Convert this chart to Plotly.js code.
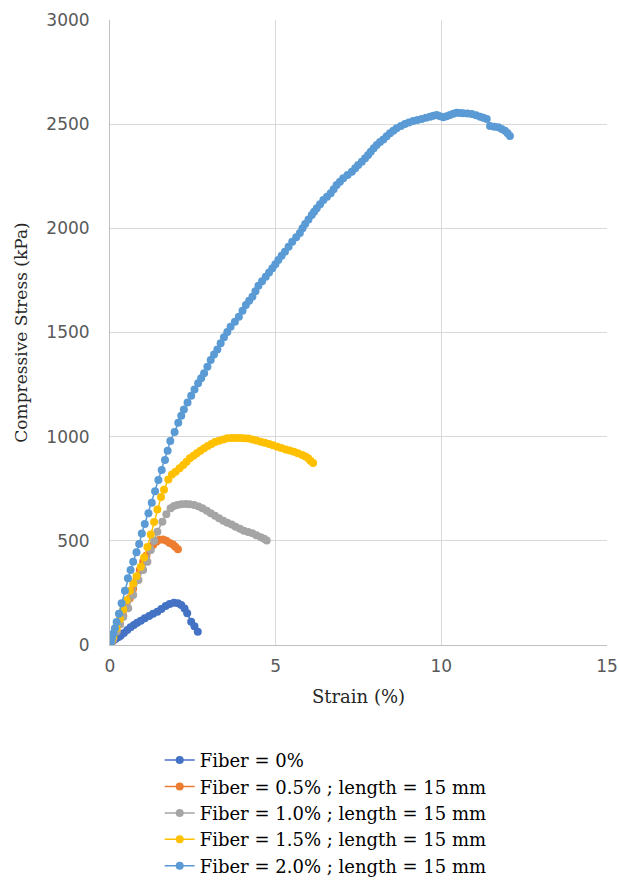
<!DOCTYPE html>
<html>
<head>
<meta charset="utf-8">
<script src="https://cdn.plot.ly/plotly-3.0.1.min.js"></script>
<style>html,body{margin:0;padding:0;background:#fff;}#chart{width:619px;height:886px;}</style>
</head>
<body>
<div id="chart"></div>
<script>
// Series names
var seriesNames = [
  "Fiber = 0%",
  "Fiber = 0.5% ; length = 15 mm",
  "Fiber = 1.0% ; length = 15 mm",
  "Fiber = 1.5% ; length = 15 mm",
  "Fiber = 2.0% ; length = 15 mm"
];
var seriesColors = ["#4472C4", "#ED7D31", "#A5A5A5", "#FFC000", "#5B9BD5"];

// Fiber = 0%
var strain0 = [0, 0.03, 0.06, 0.1, 0.15, 0.2, 0.26, 0.32, 0.42, 0.52, 0.62, 0.72, 0.82, 0.93, 1.05, 1.18, 1.3, 1.43, 1.55, 1.68, 1.8, 1.93, 2.05, 2.15, 2.25, 2.33, 2.45, 2.55, 2.65];
var stress0 = [0, 8, 15, 22, 28, 34, 38, 44, 58, 72, 85, 96, 107, 117, 128, 139, 150, 160, 173, 187, 197, 203, 200, 192, 175, 152, 112, 90, 64];

// Fiber = 0.5%
var strain05 = [0, 0.05, 0.1, 0.2, 0.3, 0.4, 0.5, 0.6, 0.7, 0.8, 0.9, 1.0, 1.1, 1.2, 1.3, 1.4, 1.5, 1.6, 1.7, 1.8, 1.9, 1.97, 2.05];
var stress05 = [0, 15, 30, 65, 100, 140, 180, 225, 270, 315, 360, 400, 430, 456, 480, 496, 505, 506, 500, 490, 482, 472, 460];

// Fiber = 1.0%
var strain10 = [0, 0.05, 0.1, 0.2, 0.3, 0.4, 0.55, 0.7, 0.86, 1.0, 1.13, 1.23, 1.33, 1.43, 1.58, 1.7, 1.83, 1.93, 2.03, 2.15, 2.28, 2.4, 2.54, 2.67, 2.79, 2.92, 3.04, 3.17, 3.29, 3.42, 3.54, 3.67, 3.79, 3.92, 4.04, 4.17, 4.3, 4.42, 4.55, 4.65, 4.73];
var stress10 = [0, 15, 30, 65, 100, 135, 176, 240, 312, 360, 400, 456, 500, 544, 592, 628, 656, 667, 672, 676, 677, 676, 672, 665, 656, 645, 632, 620, 608, 597, 587, 578, 568, 558, 549, 542, 536, 527, 517, 510, 502];

// Fiber = 1.5%
var strain15 = [0, 0.05, 0.1, 0.2, 0.3, 0.4, 0.5, 0.6, 0.7, 0.8, 0.93, 1.03, 1.13, 1.23, 1.33, 1.43, 1.54, 1.63, 1.76, 1.87, 1.98, 2.1, 2.21, 2.31, 2.41, 2.52, 2.62, 2.73, 2.84, 2.95, 3.06, 3.17, 3.29, 3.42, 3.54, 3.67, 3.79, 3.92, 4.04, 4.17, 4.3, 4.42, 4.55, 4.67, 4.8, 4.92, 5.05, 5.17, 5.3, 5.42, 5.55, 5.67, 5.8, 5.9, 5.98, 6.05, 6.13];
var stress15 = [0, 20, 40, 80, 125, 170, 215, 260, 295, 330, 376, 420, 470, 530, 590, 650, 710, 745, 795, 818, 832, 848, 864, 880, 896, 908, 920, 932, 944, 955, 965, 974, 981, 987, 992, 994, 994, 994, 993, 991, 987, 982, 976, 971, 965, 959, 952, 946, 939, 934, 928, 920, 912, 905, 896, 885, 874];

// Fiber = 2.0%
var strain20 = [0, 0.03, 0.06, 0.1, 0.15, 0.2, 0.27, 0.35, 0.45, 0.54, 0.62, 0.7, 0.8, 0.88, 0.96, 1.05, 1.16, 1.26, 1.36, 1.46, 1.56, 1.66, 1.74, 1.82, 1.95, 2.06, 2.15, 2.23, 2.34, 2.45, 2.55, 2.66, 2.75, 2.84, 2.94, 3.04, 3.14, 3.24, 3.34, 3.44, 3.54, 3.64, 3.77, 3.89, 4.0, 4.1, 4.2, 4.3, 4.39, 4.48, 4.59, 4.7, 4.8, 4.9, 4.99, 5.08, 5.18, 5.28, 5.39, 5.5, 5.62, 5.73, 5.81, 5.89, 5.99, 6.09, 6.16, 6.24, 6.34, 6.44, 6.55, 6.66, 6.75, 6.84, 6.94, 7.04, 7.17, 7.3, 7.4, 7.49, 7.6, 7.7, 7.79, 7.87, 7.96, 8.05, 8.15, 8.25, 8.35, 8.45, 8.55, 8.65, 8.78, 8.9, 9.02, 9.15, 9.28, 9.41, 9.54, 9.66, 9.76, 9.86, 9.96, 10.06, 10.16, 10.26, 10.36, 10.46, 10.56, 10.66, 10.79, 10.92, 11.05, 11.17, 11.27, 11.37, 11.47, 11.6, 11.72, 11.82, 11.92, 12.0, 12.07];
var stress20 = [0, 15, 35, 55, 80, 110, 150, 200, 260, 320, 360, 400, 445, 485, 535, 581, 632, 683, 738, 792, 840, 888, 933, 979, 1023, 1067, 1100, 1131, 1164, 1197, 1226, 1256, 1280, 1304, 1336, 1368, 1394, 1419, 1448, 1477, 1503, 1528, 1552, 1576, 1604, 1632, 1652, 1672, 1698, 1725, 1746, 1768, 1788, 1808, 1828, 1848, 1868, 1888, 1912, 1936, 1957, 1978, 2000, 2021, 2042, 2064, 2080, 2096, 2116, 2136, 2152, 2168, 2188, 2208, 2224, 2240, 2256, 2272, 2288, 2304, 2320, 2336, 2352, 2368, 2384, 2400, 2414, 2427, 2442, 2456, 2468, 2480, 2491, 2501, 2508, 2515, 2520, 2525, 2531, 2536, 2540, 2544, 2538, 2533, 2538, 2544, 2550, 2555, 2554, 2552, 2551, 2549, 2543, 2536, 2531, 2525, 2491, 2488, 2485, 2477, 2469, 2456, 2443];

// Axis ticks
var xTicks = [0, 5, 10, 15];
var yTicks = [0, 500, 1000, 1500, 2000, 2500, 3000];

var xs = [strain0, strain05, strain10, strain15, strain20];
var ys = [stress0, stress05, stress10, stress15, stress20];

var traces = xs.map(function (x, i) {
  return {
    type: "scatter",
    mode: "lines+markers",
    x: x,
    y: ys[i],
    name: seriesNames[i],
    legendgroup: "g" + i,
    line: { color: seriesColors[i], width: 1.5 },
    marker: { color: seriesColors[i], size: 8 }
  };
});

var serif = "DejaVu Serif";
var layout = {
  width: 619,
  height: 886,
  paper_bgcolor: "#ffffff",
  plot_bgcolor: "#ffffff",
  margin: { l: 110, r: 12, t: 20, b: 241, autoexpand: false },
  showlegend: true,
  legend: {
    orientation: "v",
    x: 0.1,
    xanchor: "left",
    y: -0.155,
    yanchor: "top",
    font: { family: serif, size: 18, color: "#000000" },
    bgcolor: "rgba(0,0,0,0)",
    tracegroupgap: 0
  },
  xaxis: {
    range: [0, 15],
    tickvals: xTicks,
    ticktext: xTicks.map(String),
    showgrid: true,
    gridcolor: "#D9D9D9",
    gridwidth: 1,
    zeroline: false,
    showline: true,
    linecolor: "#BFBFBF",
    linewidth: 1,
    ticks: "",
    ticklabelstandoff: 6,
    tickfont: { family: "DejaVu Sans", size: 17, color: "#595959" },
    title: { text: "Strain (%)", font: { family: serif, size: 18, color: "#262626" }, standoff: 14 },
    automargin: false
  },
  yaxis: {
    range: [0, 3000],
    tickvals: yTicks,
    ticktext: yTicks.map(String),
    showgrid: true,
    gridcolor: "#D9D9D9",
    gridwidth: 1,
    zeroline: false,
    showline: true,
    linecolor: "#BFBFBF",
    linewidth: 1,
    ticks: "",
    ticklabelstandoff: 16,
    tickfont: { family: "DejaVu Sans", size: 17, color: "#595959" },
    title: { text: "Compressive Stress (kPa)", font: { family: serif, size: 17, color: "#262626" }, standoff: 14 },
    automargin: false
  }
};

Plotly.newPlot("chart", traces, layout, { displayModeBar: false, staticPlot: true });
</script>
</body>
</html>
